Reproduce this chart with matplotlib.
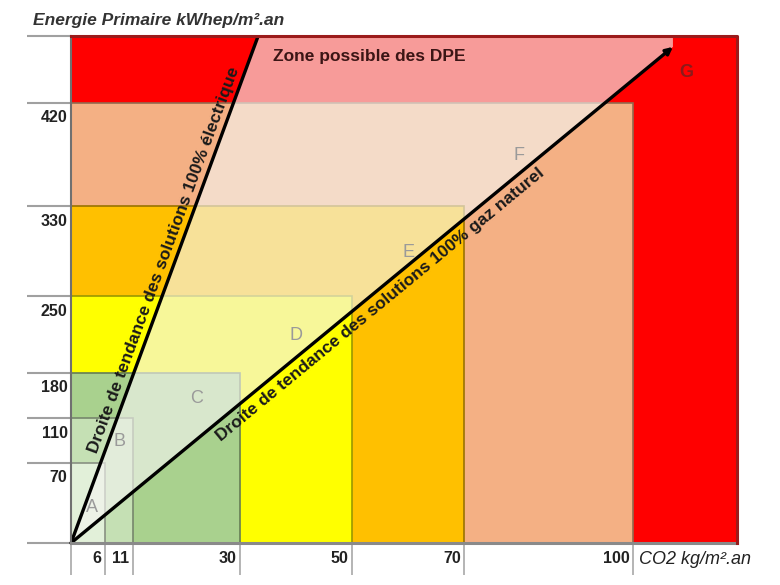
import numpy as np
import matplotlib
matplotlib.use('Agg')
import matplotlib.pyplot as plt
from matplotlib.colors import to_rgb
from matplotlib.patches import Rectangle, Polygon

plt.rcParams['font.family'] = ['Liberation Sans', 'DejaVu Sans']

# classes DPE et leurs bornes
classes = ['A', 'B', 'C', 'D', 'E', 'F', 'G']
co2_bornes = [6, 11, 30, 50, 70, 100]        # kg CO2 / m².an
ep_bornes = [70, 110, 180, 250, 330, 420]    # kWhep / m².an
couleurs = ['#E2F0D9', '#C5E0B4', '#A9D18E', '#FFFF00', '#FFC000', '#F4B084', '#FF0000']

co2_ticks = [0, 6, 11, 30, 50, 70, 100]
ep_ticks = [0, 70, 110, 180, 250, 330, 420]

# limites du schéma
co2_max = 118.5
ep_max = 500

# extrémités des droites de tendance
elec_fin = (33.3, 500)
gaz_fin = (107.1, 487)

# position des lettres de classe
lettres_x = [3.7, 8.7, 22.4, 40, 60, 79.7, 109.4]
lettres_y = [31, 89, 140, 214, 289, 374, 457]

# échelle verticale du schéma d'origine (non linéaire)
ep_reel = [0, 70, 110, 180, 250, 330, 420, 500]
ep_pos = [0, 80, 125, 170, 247, 337, 440, 507]


def fwd(y):
    return np.interp(y, ep_reel, ep_pos)


def inv(p):
    return np.interp(p, ep_pos, ep_reel)


fig = plt.figure(figsize=(7.8, 5.85), dpi=100)
ax = fig.add_axes([71 / 780, 42 / 585, 666 / 780, 507 / 585])
ax.set_yscale('function', functions=(fwd, inv))
ax.set_xlim(0, co2_max)
ax.set_ylim(0, ep_max)

# zone G (fond rouge)
ax.add_patch(Rectangle((0, 0), co2_max, ep_max, facecolor=couleurs[6],
                       edgecolor='none', zorder=1))

# rectangles imbriqués F -> A
for i in reversed(range(6)):
    bord = np.array(to_rgb(couleurs[i])) * 0.6
    ax.add_patch(Rectangle((0, 0), co2_bornes[i], ep_bornes[i],
                           facecolor=couleurs[i], edgecolor=bord,
                           linewidth=1.2, zorder=2 + (5 - i)))

# zone possible des DPE (voile clair entre les deux droites)
ax.add_patch(Polygon([(0, 0), elec_fin, (gaz_fin[0], ep_max), gaz_fin],
                     closed=True, facecolor='#f4f4f0', alpha=0.64,
                     edgecolor='none', zorder=8))

# bord rouge foncé
ax.plot([0, co2_max, co2_max], [ep_max, ep_max, 0], color='#9B1B1B',
        lw=2.2, zorder=12, clip_on=False)

# droites de tendance
ax.plot([0, elec_fin[0]], [0, elec_fin[1]], color='black', lw=2.4,
        zorder=9, solid_capstyle='butt')
ax.annotate('', xy=gaz_fin, xytext=(0, 0),
            arrowprops=dict(arrowstyle='-|>', color='black', lw=2.4,
                            mutation_scale=10, shrinkA=0, shrinkB=0),
            zorder=9)

# lettres des classes
for k, lettre in enumerate(classes):
    if lettre == 'G':
        ax.text(lettres_x[k], lettres_y[k], lettre, color='#8B1A1A',
                fontsize=13, fontweight='bold', ha='center', va='center', zorder=10)
    else:
        ax.text(lettres_x[k], lettres_y[k], lettre, color='#9a9a9a',
                fontsize=13, ha='center', va='center', zorder=10)

ax.text(35.9, 475, 'Zone possible des DPE', fontsize=12.5, fontweight='bold',
        color='#3b1515', ha='left', va='center', zorder=10)

# axes
for s in ['top', 'right']:
    ax.spines[s].set_visible(False)
ax.spines['left'].set_color('#707070')
ax.spines['left'].set_linewidth(1.5)
ax.spines['bottom'].set_color('#8a8a8a')
ax.spines['bottom'].set_linewidth(2.2)
ax.spines['left'].set_zorder(11)
ax.spines['bottom'].set_zorder(11)

ax.set_xticks(co2_ticks)
ax.set_yticks(ep_ticks + [ep_max])
ax.set_xticklabels([])
ax.set_yticklabels([])
ax.yaxis.set_minor_locator(matplotlib.ticker.NullLocator())
ax.tick_params(axis='x', length=23, width=1.1, color='#a0a0a0', direction='out')
ax.tick_params(axis='y', length=32, width=1.5, color='#a0a0a0', direction='out')

for v in co2_ticks[1:]:
    ax.annotate(str(v), xy=(v, 0), xytext=(-2.5, -11.5), textcoords='offset points',
                ha='right', va='center', fontsize=11.5, fontweight='bold',
                color='#222222', annotation_clip=False)
for v in ep_ticks[1:]:
    ax.annotate(str(v), xy=(0, v), xytext=(-2.5, -10.8), textcoords='offset points',
                ha='right', va='center', fontsize=11.5, fontweight='bold',
                color='#222222', annotation_clip=False)

fig.text(33 / 780, 1 - 21 / 585, 'Energie Primaire kWhep/m².an', fontsize=12.5,
         fontstyle='italic', fontweight='bold', color='#333333', ha='left', va='center')
fig.text(639 / 780, 1 - 560 / 585, 'CO2 kg/m².an', fontsize=13,
         fontstyle='italic', color='#222222', ha='left', va='center')


# textes le long des droites
def texte_droite(fin, t, decal, texte):
    a = ax.transData.transform((0, 0))
    b = ax.transData.transform(fin)
    d = b - a
    ang = np.degrees(np.arctan2(d[1], d[0]))
    u = d / np.hypot(d[0], d[1])
    n = np.array([-u[1], u[0]])
    p = a + t * d + n * decal
    p = fig.transFigure.inverted().transform(p)
    fig.text(p[0], p[1], texte, rotation=ang, rotation_mode='anchor',
             ha='center', va='center', fontsize=12.5, fontweight='bold',
             color='#1a1a1a', zorder=10)


texte_droite(elec_fin, 0.55, 11, 'Droite de tendance des solutions 100% électrique')
texte_droite(gaz_fin, 0.5, -13, 'Droite de tendance des solutions 100% gaz naturel')

fig.savefig('out.png', dpi=100)
